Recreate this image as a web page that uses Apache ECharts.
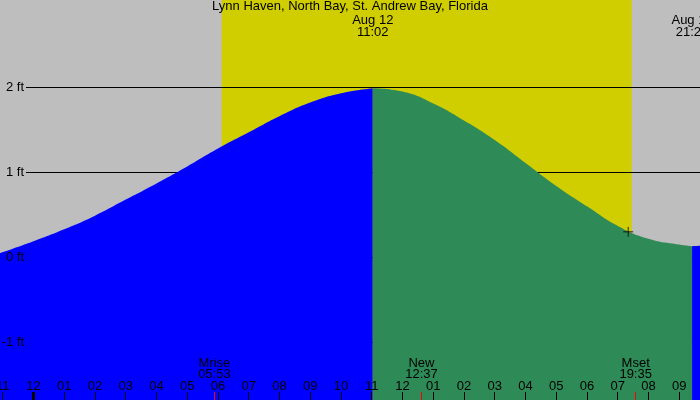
<!DOCTYPE html>
<html><head><meta charset="utf-8">
<script src="https://cdn.jsdelivr.net/npm/echarts@6/dist/echarts.min.js"></script>
<style>html,body{margin:0;padding:0;background:#bebebe}#c{width:700px;height:400px}</style>
</head><body><div id="c"></div><script>
// ---- data ----
const chartTitle = 'Lynn Haven, North Bay, St. Andrew Bay, Florida';
// hours relative to midnight, Aug 12 (negative = Aug 11)
const tideHours   = [-1.09, 0, 1, 2, 3, 4, 5, 6, 7, 8, 9, 10, 11.033, 12, 13, 14, 15, 16, 17, 18, 19, 20, 21, 21.417, 21.68];
const tideHeights = [0.05, 0.19, 0.33, 0.49, 0.68, 0.87, 1.07, 1.28, 1.47, 1.66, 1.82, 1.93, 1.99, 1.95, 1.81, 1.61, 1.38, 1.11, 0.84, 0.60, 0.37, 0.22, 0.15, 0.13, 0.135];
const extremeHours  = [11.033, 21.417];
const extremeLabels = ['Aug 12\n11:02', 'Aug 12\n21:25'];
const sunHours   = [6.12, 19.455];          // sunrise, sunset
const moonHours  = [5.883, 12.617, 19.583];
const moonLabels = ['Mrise\n05:53', 'New\n12:37', 'Mset\n19:35'];
const hourTicks  = [-1,0,1,2,3,4,5,6,7,8,9,10,11,12,13,14,15,16,17,18,19,20,21];
const midnightTicks = [0];
const heightTicks = [-1, 0, 1, 2];
const sunsetMarker = [[19.34, 0.30]];

// ---- view settings ----
const xMin = -1.0894, xMax = 21.675;
const yMin = -1.678,  yMax = 3.027;
const gridStart = -0.244;
const FONT = 'Liberation Sans';
const FS = 13;
const BLUE = '#0000ff', GREEN = '#2e8b57', YELLOW = '#d0ce00', GRAY = '#bebebe';

// split the tide curve at extremes: rising (blue) / falling (green)
const bounds = [xMin - 1].concat(extremeHours, [xMax + 1]);
const segColors = [BLUE, GREEN, BLUE];
const tideSeries = [];
for (let s = 0; s < bounds.length - 1; s++) {
  const pts = [];
  tideHours.forEach((h, i) => { if (h >= bounds[s] && h <= bounds[s + 1]) pts.push([h, tideHeights[i]]); });
  tideSeries.push({
    type: 'line', data: pts, smooth: 0.5, symbol: 'none', silent: true, z: 3,
    lineStyle: { width: 0 },
    areaStyle: { color: segColors[s], opacity: 1, origin: 'start' }
  });
}

const hourFmt = v => {
  const hr = ((Math.round(v) % 24) + 24) % 24;
  const h12 = hr % 12 === 0 ? 12 : hr % 12;
  return String(h12).padStart(2, '0');
};
const lookup = (keys, labels) => v => { const i = keys.findIndex(k => Math.abs(k - v) < 1e-6); return i >= 0 ? labels[i] : ''; };
const baseX = { type: 'value', min: xMin, max: xMax, gridIndex: 0, axisLine: { show: false, onZero: false }, splitLine: { show: false }, z: 5 };

const chart = echarts.init(document.getElementById('c'), null, { renderer: 'canvas' });
chart.setOption({
  backgroundColor: GRAY,
  animation: false,
  title: {
    text: chartTitle, left: 'center', top: 0, padding: [0, 0, 0, 0],
    textStyle: { fontSize: FS, fontWeight: 'normal', color: '#000', fontFamily: FONT, lineHeight: 13 }
  },
  grid: { left: 0, right: 0, top: 0, bottom: 0, containLabel: false, outerBoundsMode: 'none' },
  xAxis: [
    Object.assign({}, baseX, {
      position: 'bottom',
      axisTick: { show: true, inside: true, length: 8, lineStyle: { color: '#000', width: 1 }, customValues: hourTicks },
      axisLabel: { inside: true, margin: 7, customValues: hourTicks, formatter: hourFmt, color: '#000', fontSize: FS, fontFamily: FONT }
    }),
    Object.assign({}, baseX, {
      position: 'bottom', offset: 0,
      axisTick: { show: true, inside: true, length: 8, lineStyle: { color: '#000', width: 3 }, customValues: midnightTicks },
      axisLabel: { show: false }
    }),
    Object.assign({}, baseX, {
      position: 'bottom', offset: 0,
      axisTick: { show: true, inside: true, length: 8, lineStyle: { color: '#ff0000', width: 1 }, customValues: moonHours },
      axisLabel: { inside: true, margin: 20, customValues: moonHours, formatter: lookup(moonHours, moonLabels), color: '#000', fontSize: FS, lineHeight: 11, fontFamily: FONT }
    }),
    Object.assign({}, baseX, {
      position: 'top', offset: 0,
      axisTick: { show: false },
      axisLabel: { inside: true, margin: 14, customValues: extremeHours, formatter: lookup(extremeHours, extremeLabels), color: '#000', fontSize: FS, lineHeight: 12, fontFamily: FONT }
    })
  ],
  yAxis: {
    type: 'value', min: yMin, max: yMax, position: 'left', offset: -26, z: 5,
    axisLine: { show: false, onZero: false }, axisTick: { show: false }, splitLine: { show: false },
    axisLabel: { customValues: heightTicks, formatter: v => v + ' ft', margin: 2, color: '#000', fontSize: FS, fontFamily: FONT }
  },
  series: [
    {
      type: 'line', data: [], silent: true, z: 1,
      markArea: {
        silent: true, z: 1,
        itemStyle: { color: YELLOW, opacity: 1 },
        data: [[{ xAxis: sunHours[0] }, { xAxis: sunHours[1] }]]
      },
      markLine: {
        silent: true, z: 2, symbol: 'none', label: { show: false },
        lineStyle: { color: '#000', width: 1, type: 'solid' },
        data: heightTicks.map(v => [{ coord: [gridStart, v] }, { coord: [xMax, v] }])
      }
    }
  ].concat(tideSeries, [
    {
      type: 'scatter', data: sunsetMarker, z: 4, silent: true,
      symbol: 'path://M0,5L10,5M5,0L5,10', symbolSize: 10,
      itemStyle: { color: 'rgba(0,0,0,0)', borderColor: '#000', borderWidth: 1 }
    }
  ])
});
</script></body></html>
